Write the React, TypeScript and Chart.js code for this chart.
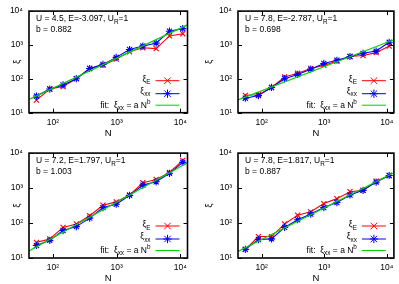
import React, { useEffect, useRef } from 'react';
import { Chart, registerables } from 'chart.js';

Chart.register(...registerables);

const N_VALUES = [55, 89, 144, 233, 377, 610, 987, 1597, 2584, 4181, 6765, 10946];
const X_MIN = 42;
const X_MAX = 13000;
const Y_MIN = 10;
const Y_MAX = 10000;
const X_TICKS = [100, 1000, 10000];
const Y_TICKS = [10, 100, 1000, 10000];

// Panel 1: U=4.5, E=-3.097
const P1_XI_E = [23.6, 50, 59, 101, 202, 250, 385, 630, 830, 783, 1850, 2150];
const P1_XI_XX = [31, 50, 66, 101, 202, 267, 430, 735, 930, 1130, 2550, 3030];
const P1_FIT = [24.5, 3930];
// Panel 2: U=7.8, E=-2.787
const P2_XI_E = [32.6, 34, 55.6, 113, 146, 202, 250, 331, 457, 489, 593, 930];
const P2_XI_XX = [26.8, 32, 55.6, 101, 135, 193, 285, 354, 457, 567, 660, 1200];
const P2_FIT = [24, 1425];
// Panel 3: U=7.2, E=1.797
const P3_XI_E = [28, 35, 75, 94, 161, 323, 402, 640, 1416, 1757, 2800, 6200];
const P3_XI_XX = [22.8, 32, 61, 79, 138, 277, 345, 620, 1216, 1510, 2640, 5440];
const P3_FIT = [15.8, 5300];
// Panel 4: U=7.8, E=1.817
const P4_XI_E = [17.6, 41, 41, 94, 168, 209, 360, 499, 787, 859, 1578, 2285];
const P4_XI_XX = [17.6, 33.7, 35.2, 75, 124, 180, 277, 385, 634, 859, 1480, 2285];
const P4_FIT = [15.5, 2750];

const TITLES_U = ['4.5', '7.8', '7.2', '7.8'];
const TITLES_E = ['-3.097', '-2.787', '1.797', '1.817'];
const B_VALUES = ['0.882', '0.698', '1.003', '0.887'];

const SUPS: Record<string, string> = { '0': '⁰', '1': '¹', '2': '²', '3': '³', '4': '⁴' };
const FONT = '"Liberation Sans", Arial, Helvetica, sans-serif';
const RED = 'rgb(255,0,0)';
const BLUE = 'rgb(0,0,255)';
const GREEN = 'rgb(0,210,0)';

type Seg = { t: string; s?: 'sub' | 'sup' };

function drawRich(ctx: CanvasRenderingContext2D, segs: Seg[], x: number, y: number, size: number, align: 'left' | 'right') {
  ctx.textBaseline = 'middle';
  ctx.textAlign = 'left';
  let w = 0;
  const widths: number[] = [];
  for (const sg of segs) {
    ctx.font = `${sg.s ? size * 0.75 : size}px ${FONT}`;
    const ww = ctx.measureText(sg.t).width;
    widths.push(ww);
    w += ww;
  }
  let cx = align === 'right' ? x - w : x;
  segs.forEach((sg, i) => {
    ctx.font = `${sg.s ? size * 0.75 : size}px ${FONT}`;
    const dy = sg.s === 'sub' ? size * 0.35 : sg.s === 'sup' ? -size * 0.4 : 0;
    ctx.fillText(sg.t, cx, y + dy);
    cx += widths[i];
  });
}

interface PanelLayout {
  left: number; top: number; width: number; height: number;
  yAxisW: number; padTop: number; padRight: number; xAxisH: number;
  xTitlePad: number; yTitlePad: number;
}

const LAYOUTS: PanelLayout[] = [
  { left: 0, top: 0, width: 199, height: 142, yAxisW: 29, padTop: 5.5, padRight: 11.5, xAxisH: 29.3, xTitlePad: 3.3, yTitlePad: 11.6 },
  { left: 199, top: 0, width: 200, height: 142, yAxisW: 39, padTop: 5.5, padRight: 2.5, xAxisH: 29.3, xTitlePad: 3.3, yTitlePad: 4.6 },
  { left: 0, top: 142, width: 199, height: 142, yAxisW: 29, padTop: 10, padRight: 11.5, xAxisH: 26, xTitlePad: 0, yTitlePad: 11.6 },
  { left: 199, top: 142, width: 200, height: 142, yAxisW: 39, padTop: 10, padRight: 2.5, xAxisH: 26, xTitlePad: 0, yTitlePad: 4.6 },
];

const SERIES = [
  { e: P1_XI_E, xx: P1_XI_XX, fit: P1_FIT },
  { e: P2_XI_E, xx: P2_XI_XX, fit: P2_FIT },
  { e: P3_XI_E, xx: P3_XI_XX, fit: P3_FIT },
  { e: P4_XI_E, xx: P4_XI_XX, fit: P4_FIT },
];

function supLabel(v: number) {
  const exp = String(Math.round(Math.log10(v)));
  return '10' + exp.split('').map((c) => SUPS[c] || c).join('');
}

function Panel({ idx }: { idx: number }) {
  const ref = useRef<HTMLCanvasElement>(null);
  const L = LAYOUTS[idx];
  useEffect(() => {
    if (!ref.current) return;
    const s = SERIES[idx];
    const pts = (arr: number[]) => N_VALUES.map((n, i) => ({ x: n, y: arr[i] }));
    const framePlugin = {
      id: 'frame' + idx,
      afterDraw(chart: any) {
        const { ctx, chartArea: a, scales } = chart;
        ctx.save();
        ctx.strokeStyle = '#000';
        ctx.lineWidth = 1;
        // ticks
        const tl = 4;
        ctx.beginPath();
        for (const v of X_TICKS) {
          const px = Math.round(scales.x.getPixelForValue(v)) + 0.5;
          ctx.moveTo(px, a.bottom); ctx.lineTo(px, a.bottom - tl);
          ctx.moveTo(px, a.top); ctx.lineTo(px, a.top + tl);
        }
        for (const v of Y_TICKS) {
          const py = Math.round(scales.y.getPixelForValue(v)) + 0.5;
          ctx.moveTo(a.left, py); ctx.lineTo(a.left + tl, py);
          ctx.moveTo(a.right, py); ctx.lineTo(a.right - tl, py);
        }
        ctx.stroke();
        ctx.lineWidth = 1.6;
        ctx.strokeRect(a.left, a.top, a.right - a.left, a.bottom - a.top);
        // annotation
        ctx.fillStyle = '#000';
        drawRich(ctx, [
          { t: `U = ${TITLES_U[idx]}, E=${TITLES_E[idx]}, U` }, { t: 'R', s: 'sub' }, { t: '=1' },
        ], a.left + 7, a.top + 8, 8.5, 'left');
        drawRich(ctx, [{ t: `b = ${B_VALUES[idx]}` }], a.left + 7, a.top + 18.5, 8.5, 'left');
        // legend
        const x0 = a.right - 32;
        const x1 = a.right - 8;
        const xm = (x0 + x1) / 2;
        const tx = a.right - 37;
        const rows = [a.bottom - 32, a.bottom - 19, a.bottom - 7.5];
        // row 1
        drawRich(ctx, [{ t: 'ξ' }, { t: 'E', s: 'sub' }], tx, rows[0] - 1, 8.5, 'right');
        ctx.strokeStyle = RED; ctx.lineWidth = 1;
        ctx.beginPath(); ctx.moveTo(x0, rows[0]); ctx.lineTo(x1, rows[0]);
        const r = 3.2;
        ctx.moveTo(xm - r, rows[0] - r); ctx.lineTo(xm + r, rows[0] + r);
        ctx.moveTo(xm - r, rows[0] + r); ctx.lineTo(xm + r, rows[0] - r);
        ctx.stroke();
        // row 2
        ctx.fillStyle = '#000';
        drawRich(ctx, [{ t: 'ξ' }, { t: 'xx', s: 'sub' }], tx, rows[1] - 2, 8.5, 'right');
        ctx.strokeStyle = BLUE;
        ctx.beginPath(); ctx.moveTo(x0, rows[1]); ctx.lineTo(x1, rows[1]);
        ctx.moveTo(xm - r, rows[1] - r); ctx.lineTo(xm + r, rows[1] + r);
        ctx.moveTo(xm - r, rows[1] + r); ctx.lineTo(xm + r, rows[1] - r);
        ctx.moveTo(xm, rows[1] - r * 1.3); ctx.lineTo(xm, rows[1] + r * 1.3);
        ctx.moveTo(xm - r * 1.3, rows[1]); ctx.lineTo(xm + r * 1.3, rows[1]);
        ctx.stroke();
        // row 3
        ctx.fillStyle = '#000';
        drawRich(ctx, [{ t: 'fit:  ξ' }, { t: 'xx', s: 'sub' }, { t: ' = a N' }, { t: 'b', s: 'sup' }], tx, rows[2], 8.5, 'right');
        ctx.strokeStyle = GREEN;
        ctx.beginPath(); ctx.moveTo(x0, rows[2]); ctx.lineTo(x1, rows[2]); ctx.stroke();
        ctx.restore();
      },
    };
    const chart = new Chart(ref.current, {
      type: 'line',
      data: {
        datasets: [
          {
            label: 'fit', data: [{ x: X_MIN, y: s.fit[0] }, { x: X_MAX, y: s.fit[1] }],
            borderColor: GREEN, borderWidth: 1.2, pointRadius: 0, order: 0,
          },
          {
            label: 'xi_xx', data: pts(s.xx), borderColor: BLUE, backgroundColor: BLUE,
            borderWidth: 1.1, pointStyle: 'star', pointRadius: 3.6, pointBorderColor: BLUE,
            pointBorderWidth: 1.1, order: 1,
          },
          {
            label: 'xi_E', data: pts(s.e), borderColor: RED, backgroundColor: RED,
            borderWidth: 1.1, pointStyle: 'crossRot', pointRadius: 3.6, pointBorderColor: RED,
            pointBorderWidth: 1.1, order: 2,
          },
        ] as any,
      },
      options: {
        animation: false,
        responsive: false,
        events: [],
        layout: { padding: { left: 0, top: L.padTop, right: L.padRight, bottom: 0 } },
        plugins: { legend: { display: false }, tooltip: { enabled: false } },
        scales: {
          x: {
            type: 'logarithmic', min: X_MIN, max: X_MAX,
            grid: { display: false, drawTicks: false },
            border: { display: false },
            afterBuildTicks: (sc: any) => { sc.ticks = X_TICKS.map((v) => ({ value: v })); },
            afterFit: (sc: any) => { sc.height = L.xAxisH; },
            ticks: {
              autoSkip: false, maxRotation: 0, padding: 4.5, color: '#000',
              font: { family: FONT, size: 8.5 },
              callback: (v: any) => supLabel(Number(v)),
            },
            title: {
              display: true, text: 'N', color: '#000',
              font: { family: FONT, size: 9.5, lineHeight: 1.2 },
              padding: { top: 0, bottom: L.xTitlePad },
            },
          },
          y: {
            type: 'logarithmic', min: Y_MIN, max: Y_MAX,
            grid: { display: false, drawTicks: false },
            border: { display: false },
            afterBuildTicks: (sc: any) => { sc.ticks = Y_TICKS.map((v) => ({ value: v })); },
            afterFit: (sc: any) => { sc.width = L.yAxisW; },
            ticks: {
              autoSkip: false, padding: 6, color: '#000',
              font: { family: FONT, size: 8.5 },
              callback: (v: any) => supLabel(Number(v)),
            },
            title: {
              display: true, text: 'ξ', color: '#000',
              font: { family: FONT, size: 9.5, lineHeight: 1.2 },
              padding: { top: L.yTitlePad, bottom: 0 },
            },
          },
        },
      } as any,
      plugins: [framePlugin],
    });
    return () => chart.destroy();
  }, [idx]);
  return (
    <canvas
      ref={ref}
      width={L.width}
      height={L.height}
      style={{ position: 'absolute', left: L.left, top: L.top, width: L.width, height: L.height }}
    />
  );
}

export default function App() {
  return (
    <div style={{ position: 'fixed', left: 0, top: 0, width: 399, height: 284, background: '#fff', overflow: 'hidden' }}>
      {[0, 1, 2, 3].map((i) => (
        <Panel key={i} idx={i} />
      ))}
    </div>
  );
}
